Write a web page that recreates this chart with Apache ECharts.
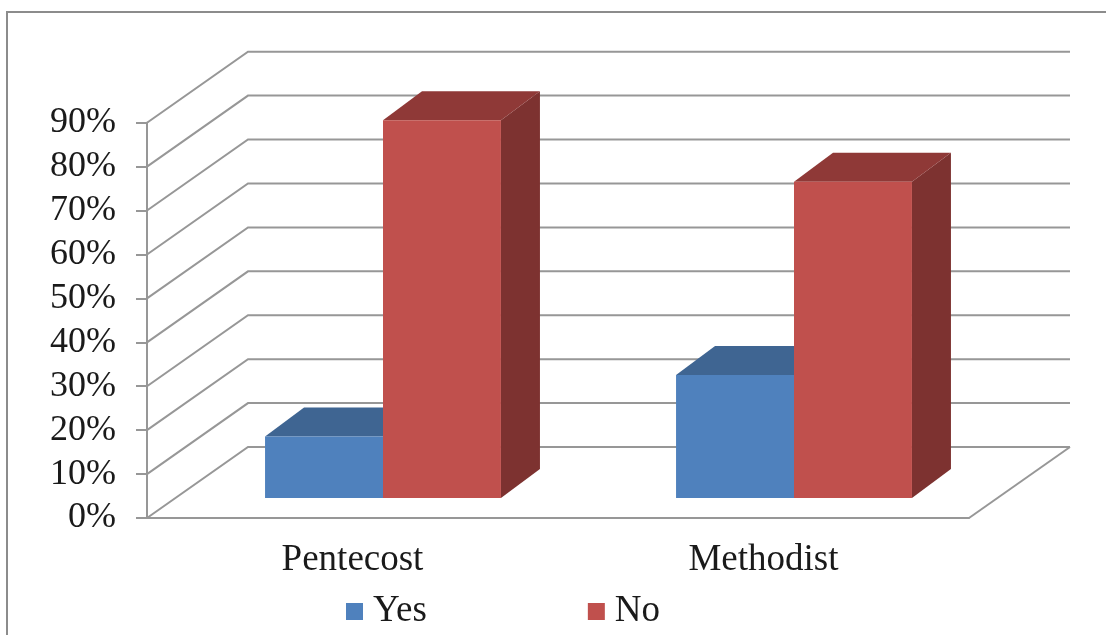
<!DOCTYPE html>
<html>
<head>
<meta charset="utf-8">
<style>html,body{margin:0;padding:0;background:#fff}#chart{width:1106px;height:635px}</style>
<script src="https://cdn.jsdelivr.net/npm/echarts@6/dist/echarts.min.js"></script>
</head>
<body>
<div id="chart"></div>
<script>
const categories = ['Pentecost', 'Methodist'];
const yesValues = [14, 28];
const noValues = [86, 72];
const tickValues = [0, 10, 20, 30, 40, 50, 60, 70, 80, 90];

const SERIF = '"Liberation Serif", serif';
const LINE = '#979797';
const WALL_DX = 101, WALL_DY = 71;      // offset of the back wall from the front plane
const BAR_SHIFT_X = 30.5, BAR_SHIFT_Y = 20; // where the bars stand on the floor
const BAR_DX = 39, BAR_DY = 29;         // depth of a bar
const BAR_SHARE = 0.287;                // bar width as a share of the category band

// Gridlines: one step across the side wall, then along the back wall.
function renderWall(params, api) {
  const cs = params.coordSys;
  const v = api.value(1);
  const y = api.coord([0, v])[1];
  const x0 = cs.x, x1 = cs.x + cs.width;
  const style = { stroke: LINE, lineWidth: 2, fill: null };
  const children = [{
    type: 'polyline',
    shape: { points: [[x0, y], [x0 + WALL_DX, y - WALL_DY], [x1 + WALL_DX, y - WALL_DY]] },
    style
  }];
  if (v === 0) {
    children.push({
      type: 'line',
      shape: { x1: x1, y1: y, x2: x1 + WALL_DX, y2: y - WALL_DY },
      style
    });
  }
  return { type: 'group', children };
}

// A box with front, top and right faces, placed side by side within the band.
function boxRenderer(slot, front, top, side) {
  return function (params, api) {
    const idx = api.value(0);
    const base = api.coord([idx, 0]);
    const tip = api.coord([idx, api.value(1)]);
    const w = api.size([1, 0])[0] * BAR_SHARE;
    const l = base[0] + BAR_SHIFT_X + slot * w;
    const r = l + w;
    const b = base[1] - BAR_SHIFT_Y;
    const t = tip[1] - BAR_SHIFT_Y;
    return {
      type: 'group',
      children: [
        { type: 'polygon', shape: { points: [[r, b], [r + BAR_DX, b - BAR_DY], [r + BAR_DX, t - BAR_DY], [r, t]] }, style: { fill: side } },
        { type: 'polygon', shape: { points: [[l, t], [l + BAR_DX, t - BAR_DY], [r + BAR_DX, t - BAR_DY], [r, t]] }, style: { fill: top } },
        { type: 'rect', shape: { x: l, y: t, width: w, height: b - t }, style: { fill: front } }
      ]
    };
  };
}

const toPairs = values => values.map((v, i) => [i, v]);

const chart = echarts.init(document.getElementById('chart'), null, { renderer: 'canvas' });
chart.setOption({
  animation: false,
  backgroundColor: '#ffffff',
  grid: { left: 147, top: 122.7, width: 822, height: 395.3 },
  graphic: [{
    type: 'polyline',
    silent: true,
    shape: { points: [[7, 635], [7, 12], [1106, 12]] },
    style: { stroke: '#8c8c8c', lineWidth: 2, fill: null }
  }],
  legend: {
    data: ['Yes', 'No'],
    left: 341,
    top: 588,
    icon: 'rect',
    itemWidth: 17,
    itemHeight: 17,
    itemGap: 161,
    selectedMode: false,
    textStyle: { fontFamily: SERIF, fontSize: 37, color: '#1a1a1a', padding: [0, 0, 0, 5] }
  },
  xAxis: {
    type: 'category',
    data: categories,
    axisTick: { show: false },
    axisLine: { lineStyle: { color: LINE, width: 2 } },
    axisLabel: { fontFamily: SERIF, fontSize: 37, color: '#1a1a1a', margin: 24 }
  },
  yAxis: {
    type: 'value',
    min: 0,
    max: 90,
    interval: 10,
    splitLine: { show: false },
    axisLine: { show: true, lineStyle: { color: LINE, width: 2 } },
    axisTick: { show: true, length: 11, lineStyle: { color: LINE, width: 2 } },
    axisLabel: { fontFamily: SERIF, fontSize: 36, color: '#1a1a1a', margin: 31, padding: [4, 0, 0, 0], formatter: '{value}%' }
  },
  series: [
    {
      type: 'custom',
      name: 'walls',
      silent: true,
      renderItem: renderWall,
      encode: { x: 0, y: 1 },
      data: tickValues.map(v => [0, v]),
      z: 1
    },
    {
      type: 'custom',
      name: 'Yes',
      renderItem: boxRenderer(-1, '#4f81bd', '#3f6592', '#335478'),
      encode: { x: 0, y: 1 },
      itemStyle: { color: '#4f81bd' },
      data: toPairs(yesValues),
      z: 2
    },
    {
      type: 'custom',
      name: 'No',
      renderItem: boxRenderer(0, '#c0504d', '#8f3937', '#7d3230'),
      encode: { x: 0, y: 1 },
      itemStyle: { color: '#c0504d' },
      data: toPairs(noValues),
      z: 3
    }
  ]
});
</script>
</body>
</html>
